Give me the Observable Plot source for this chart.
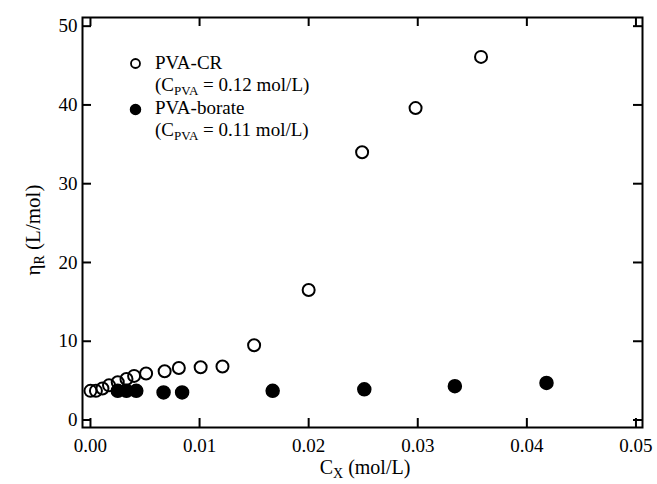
<!DOCTYPE html>
<html><head><meta charset="utf-8">
<script src="https://cdn.jsdelivr.net/npm/d3@7"></script>
<script src="https://cdn.jsdelivr.net/npm/@observablehq/plot@0.6"></script>
<style>body{margin:0;background:#fff}</style>
</head><body><div id="chart"></div>
<script>
// PVA-CR (open circles)
const crX = [0, 0.0005, 0.0011, 0.0017, 0.0025, 0.0033, 0.0040, 0.0051, 0.0068, 0.0081, 0.0101, 0.0121, 0.0150, 0.0200, 0.0249, 0.0298, 0.0358];
const crY = [3.7, 3.7, 4.0, 4.4, 4.8, 5.2, 5.6, 5.9, 6.2, 6.6, 6.7, 6.8, 9.5, 16.5, 34.0, 39.6, 46.1];
// PVA-borate (filled circles)
const borX = [0.0025, 0.0033, 0.0042, 0.0067, 0.0084, 0.0167, 0.0251, 0.0334, 0.0418];
const borY = [3.7, 3.7, 3.7, 3.5, 3.5, 3.7, 3.9, 4.3, 4.7];
const xTicks = [0, 0.01, 0.02, 0.03, 0.04, 0.05];
const yTicks = [0, 10, 20, 30, 40, 50];
const legendNames = ["PVA-CR", "PVA-borate"];
const legendConc = ["0.12", "0.11"];

const W = 657, H = 484, mL = 82, mR = 15, mT = 17, mB = 57;
const fw = W - mL - mR, fh = H - mT - mB;
const font = "'Liberation Serif', 'Times New Roman', serif";
const TK = 9;

const cr = crX.map((x, i) => ({x, y: crY[i]}));
const bor = borX.map((x, i) => ({x, y: borY[i]}));

const svg = Plot.plot({
  width: W, height: H,
  marginLeft: mL, marginRight: mR, marginTop: mT, marginBottom: mB,
  style: {fontFamily: font, fontSize: "19px", color: "black", background: "white"},
  x: {domain: [-0.00073, 0.0506], label: null},
  y: {domain: [-0.95, 51.1], label: null},
  marks: [
    Plot.frame({stroke: "black", strokeWidth: 2, fill: "none"}),
    Plot.axisX(xTicks, {tickSize: 0, tickPadding: 11, tickFormat: d3.format(".2f"), label: null, fontSize: 19}),
    Plot.axisY(yTicks, {tickSize: 0, tickPadding: 5, tickFormat: d => String(d), label: null, fontSize: 19}),
    // inward ticks on all four sides
    Plot.ruleX(xTicks, {x: d => d, stroke: "black", strokeWidth: 2, insetTop: fh - TK}),
    Plot.ruleX(xTicks, {x: d => d, stroke: "black", strokeWidth: 2, insetBottom: fh - TK}),
    Plot.ruleY(yTicks, {y: d => d, stroke: "black", strokeWidth: 2, insetRight: fw - TK}),
    Plot.ruleY(yTicks, {y: d => d, stroke: "black", strokeWidth: 2, insetLeft: fw - TK}),
    Plot.dot(cr, {x: "x", y: "y", r: 6, stroke: "black", strokeWidth: 2, fill: "none"}),
    Plot.dot(bor, {x: "x", y: "y", r: 6.5, fill: "black", stroke: "black"}),
    Plot.dot([legendNames[0]], {frameAnchor: "top-left", dx: 53, dy: 46, r: 4.5, stroke: "black", strokeWidth: 1.8, fill: "none"}),
    Plot.dot([legendNames[1]], {frameAnchor: "top-left", dx: 53, dy: 92, r: 5, stroke: "black", fill: "black"})
  ]
});

const s = d3.select(svg);
const baseY = [69, 114];
legendNames.forEach((n, i) => {
  s.append("text").attr("x", 155).attr("y", baseY[i]).attr("text-anchor", "start").attr("font-size", 19).attr("font-family", font).attr("fill", "black").text(n);
  const t = s.append("text").attr("x", 155).attr("y", baseY[i] + 22).attr("text-anchor", "start").attr("font-size", 19).attr("font-family", font).attr("fill", "black");
  t.append("tspan").text("(C");
  t.append("tspan").attr("font-size", 13).attr("dy", 4).text("PVA");
  t.append("tspan").attr("dy", -4).text(" = " + legendConc[i] + " mol/L)");
});

const xt = s.append("text").attr("x", 365).attr("y", 474).attr("text-anchor", "middle").attr("font-size", 20).attr("font-family", font).attr("fill", "black");
xt.append("tspan").text("C");
xt.append("tspan").attr("font-size", 14).attr("dy", 4).text("X");
xt.append("tspan").attr("dy", -4).text(" (mol/L)");

const yt = s.append("text").attr("transform", "translate(40,230) rotate(-90)").attr("text-anchor", "middle").attr("font-size", 21).attr("font-family", font).attr("fill", "black");
yt.append("tspan").text("η");
yt.append("tspan").attr("font-size", 14).attr("dy", 4).text("R");
yt.append("tspan").attr("dy", -4).text(" (L/mol)");

document.getElementById("chart").appendChild(svg);
</script>
</body></html>
